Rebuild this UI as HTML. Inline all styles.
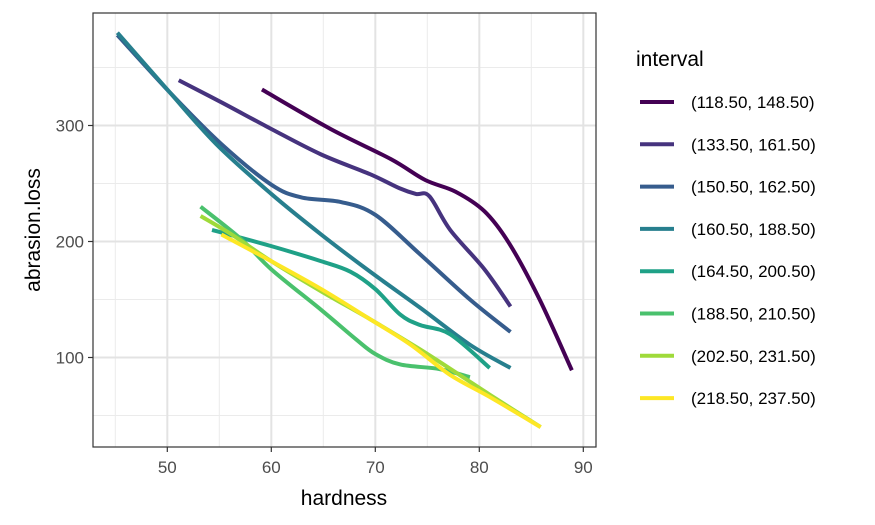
<!DOCTYPE html>
<html><head><meta charset="utf-8"><style>
body{margin:0;background:#fff;}
svg{display:block;font-family:"Liberation Sans",Arial,sans-serif;}
</style></head><body>
<svg id="chart" width="875" height="525">
<rect x="0" y="0" width="875" height="525" fill="#fff"/>
<g id="grid"></g>
<g id="lines"></g>
<rect x="93" y="13" width="503" height="434" fill="none" stroke="#333" stroke-width="1.2"/>
<g id="axes"></g>
<text x="344" y="505" text-anchor="middle" font-size="21" fill="#000">hardness</text>
<text transform="translate(40,230) rotate(-90)" text-anchor="middle" font-size="21" fill="#000">abrasion.loss</text>
<text x="636" y="66" font-size="21" fill="#000">interval</text>
<g id="legend"></g>
</svg>
<script>
const labels=["(118.50, 148.50)","(133.50, 161.50)","(150.50, 162.50)","(160.50, 188.50)","(164.50, 200.50)","(188.50, 210.50)","(202.50, 231.50)","(218.50, 237.50)"];
const colors=["#440154","#46337E","#365C8D","#277F8E","#1FA187","#4AC16D","#9FDA3A","#FDE725"];
const xTicks=[50,60,70,80,90];
const yTicks=[100,200,300];
const s1x=[59.1,65.7,71.5,74.8,77.7,80.5,82.9,85.8,88.9];
const s1y=[331,297,271,253,243,226,198,150,89];
const s2x=[51.1,55.2,60,64.8,69.5,72.3,73.9,75.2,77.2,80.5,83];
const s2y=[339,320,297,275,258,246,241,239,210,176,144];
const s3x=[45.2,50.4,55.2,60,62.9,66.7,70,74.3,79.1,83];
const s3y=[378,327,284,249,238,234,223,189,150,122];
const s4x=[45.2,50,54.7,60,64.8,69.5,74.3,79.1,83];
const s4y=[380,331,284,241,206,174,143,111,91];
const s5x=[54.3,60,64.8,67.6,70,72.4,74.3,77.2,81];
const s5y=[210,196,183,174,159,137,128,120,91];
const s6x=[53.2,57.1,60,64.8,68.1,70,72.4,76.2,79.1];
const s6y=[230,202,176,141,116,103,94,90,83];
const s7x=[53.2,56.2,60,64.8,69.5,74.3,78.1,81,85.9];
const s7y=[222,206,183,157,133,107,85,68,40];
const s8x=[55.2,60,64.8,69.5,73.4,77.2,81,85.9];
const s8y=[206,183,159,133,111,85,66,40];
const seriesX=[s1x,s2x,s3x,s4x,s5x,s6x,s7x,s8x];
const seriesY=[s1y,s2y,s3y,s4y,s5y,s6y,s7y,s8y];

const NS="http://www.w3.org/2000/svg";
const X=v=>115.3+(v-45)*10.4;
const Y=v=>125.5+(300-v)*1.16;
function mk(tag,attrs,parent){const e=document.createElementNS(NS,tag);for(const k in attrs)e.setAttribute(k,attrs[k]);parent.appendChild(e);return e;}
const grid=document.getElementById('grid'),axes=document.getElementById('axes');
for(let v=45;v<=90;v+=10){const g=mk('line',{x1:X(v),x2:X(v),y1:13,y2:447,stroke:'#ebebeb','stroke-width':1},grid);

}
for(let v=50;v<=350;v+=100){const g=mk('line',{x1:93,x2:596,y1:Y(v),y2:Y(v),stroke:'#ebebeb','stroke-width':1},grid);

}
xTicks.forEach(v=>{const g=mk('line',{x1:X(v),x2:X(v),y1:13,y2:447,stroke:'#e3e3e3','stroke-width':2},grid);


const t=mk('line',{x1:X(v),x2:X(v),y1:447,y2:452,stroke:'#333','stroke-width':1.2},axes);


const l=mk('text',{x:X(v),y:473,'text-anchor':'middle','font-size':17,fill:'#4d4d4d'},axes);l.textContent=v;

});
yTicks.forEach(v=>{const g=mk('line',{x1:93,x2:596,y1:Y(v),y2:Y(v),stroke:'#e3e3e3','stroke-width':2},grid);


const t=mk('line',{x1:88,x2:93,y1:Y(v),y2:Y(v),stroke:'#333','stroke-width':1.2},axes);


const l=mk('text',{x:84,y:Y(v)+6,'text-anchor':'end','font-size':17,fill:'#4d4d4d'},axes);l.textContent=v;

});
function smooth(p){let d=`M${p[0][0]},${p[0][1]}`;for(let i=0;i<p.length-1;i++){const p0=p[i-1]||p[i],p1=p[i],p2=p[i+1],p3=p[i+2]||p2;
d+=` C${p1[0]+(p2[0]-p0[0])/6},${p1[1]+(p2[1]-p0[1])/6} ${p2[0]-(p3[0]-p1[0])/6},${p2[1]-(p3[1]-p1[1])/6} ${p2[0]},${p2[1]}`;}return d;}
const lines=document.getElementById('lines');
seriesX.forEach((xs,i)=>{const pts=xs.map((x,j)=>[X(x),Y(seriesY[i][j])]);
const p=mk('path',{d:smooth(pts),fill:'none',stroke:colors[i],'stroke-width':4},lines);

});
const legend=document.getElementById('legend');
labels.forEach((lab,i)=>{const y=102+i*42.3;
const k=mk('line',{x1:640,x2:674,y1:y,y2:y,stroke:colors[i],'stroke-width':4},legend);


const t=mk('text',{x:691,y:y+6,'font-size':17,fill:'#000'},legend);t.textContent=lab;

});
</script>
</body></html>
